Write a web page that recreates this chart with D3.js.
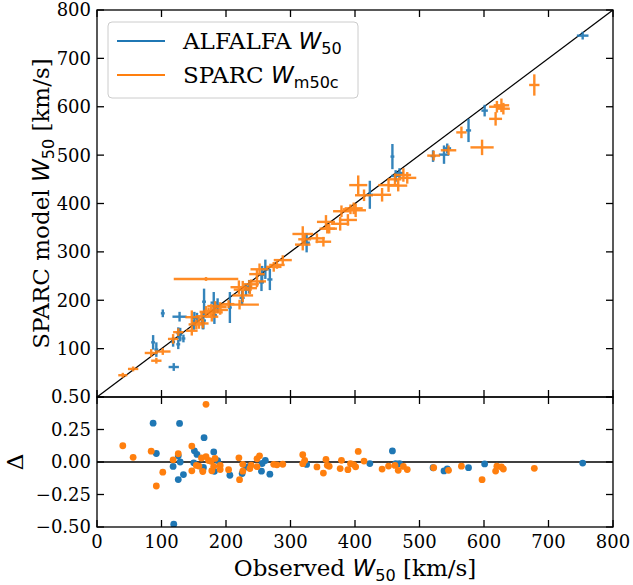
<!DOCTYPE html>
<html>
<head>
<meta charset="utf-8">
<script src="https://cdn.jsdelivr.net/npm/d3@7"></script>
<style>
  html, body { margin: 0; padding: 0; background: #fff; }
  svg { display: block; }
  text { font-family: "DejaVu Serif", serif; fill: #000; }
</style>
</head>
<body>
<svg id="chart" width="633" height="585"></svg>
<script>
// ---------------- DATA ----------------
// ALFALFA W50 : observed, SPARC model, errors
const alfalfaObs      = [87, 128, 92, 166, 126, 129, 118, 126, 134, 119, 151, 155, 150, 165, 164, 181, 182, 187, 206, 225, 231, 236, 255, 256, 261, 268, 325, 423, 458, 463, 469, 521, 538, 543, 576, 601, 753, 102];
const alfalfaModel    = [113, 166, 98, 197, 132, 129, 114, 109, 121, 62, 164, 164, 149, 158, 154, 195, 169, 189, 185, 205, 222, 228, 237, 253, 264, 243, 319, 418, 497, 457, 463, 498, 501, 514, 551, 592, 747, 173];
const alfalfaObsErr   = [3, 11, 3, 3, 3, 3, 3, 3, 3, 8, 4, 4, 3, 4, 3, 5, 4, 4, 3, 4, 3, 4, 4, 4, 5, 4, 5, 5, 3, 7, 6, 4, 8, 6, 4, 5, 9, 3];
const alfalfaModelErr = [15, 10, 15, 27, 12, 14, 10, 10, 8, 8, 12, 10, 10, 18, 14, 22, 18, 15, 32, 15, 12, 14, 18, 18, 20, 22, 20, 29, 26, 12, 10, 12, 19, 10, 24, 12, 8, 8];

// SPARC W_m50c : observed, SPARC model, errors
const sparcObs      = [40, 56, 84, 92, 102, 118, 126, 147, 147, 154, 158, 164, 162, 169, 169, 173, 177, 178, 183, 181, 191, 191, 204, 220, 221, 226, 226, 239, 237, 248, 252, 248, 274, 279, 288, 319, 319, 322, 341, 351, 355, 357, 360, 379, 377, 389, 393, 398, 401, 405, 414, 442, 452, 462, 467, 475, 481, 522, 545, 565, 597, 618, 620, 627, 630, 678];
const sparcModel    = [45, 58, 91, 75, 94, 120, 134, 165, 137, 150, 153, 152, 167, 176, 244, 175, 178, 166, 188, 175, 186, 180, 192, 227, 191, 222, 210, 233, 225, 254, 264, 239, 269, 273, 283, 337, 315, 326, 328, 321, 362, 348, 348, 384, 358, 366, 388, 390, 386, 438, 417, 418, 438, 450, 437, 459, 453, 499, 510, 547, 516, 575, 600, 603, 596, 645];
const sparcObsErr   = [7, 8, 10, 8, 12, 8, 8, 10, 9, 12, 10, 9, 9, 10, 50, 11, 12, 10, 12, 14, 10, 12, 9, 13, 30, 14, 16, 12, 11, 12, 14, 14, 12, 12, 14, 16, 12, 10, 12, 12, 14, 12, 12, 13, 14, 14, 12, 14, 16, 14, 14, 14, 16, 10, 14, 12, 14, 10, 12, 8, 18, 10, 12, 12, 10, 8];
const sparcModelErr = [5, 5, 8, 6, 7, 10, 8, 14, 10, 10, 12, 10, 10, 12, 4, 10, 14, 10, 10, 12, 10, 10, 8, 14, 10, 18, 14, 10, 12, 10, 12, 12, 10, 8, 10, 16, 12, 10, 10, 10, 14, 10, 10, 12, 14, 12, 10, 12, 14, 20, 12, 14, 14, 12, 12, 14, 12, 10, 10, 12, 16, 14, 12, 14, 12, 22];

const xTicks      = [0, 100, 200, 300, 400, 500, 600, 700, 800];
const yTicksTop   = [0, 100, 200, 300, 400, 500, 600, 700, 800];
const yTickLabelsTop = ["", "100", "200", "300", "400", "500", "600", "700", "800"];
const yTicksBot   = [-0.5, -0.25, 0, 0.25, 0.5];

const seriesNames = ["ALFALFA", "SPARC"];
const colors = ["#1f77b4", "#ff7f0e"];

// ---------------- LAYOUT ----------------
const svg = d3.select("#chart");
const L = 97, R = 613, T1 = 10, B1 = 397, T2 = 397, B2 = 527;
const tickLen = 7;

const x = d3.scaleLinear().domain([0, 800]).range([L, R]);
const yTop = d3.scaleLinear().domain([0, 800]).range([B1, T1]);
const yBot = d3.scaleLinear().domain([-0.5, 0.5]).range([B2, T2]);

function buildSeries(obs, model, xe, ye) {
  return obs.map((o, i) => ({ x: o, y: model[i], xe: xe[i], ye: ye[i], d: (model[i] - o) / o }));
}
const series = [
  buildSeries(alfalfaObs, alfalfaModel, alfalfaObsErr, alfalfaModelErr),
  buildSeries(sparcObs, sparcModel, sparcObsErr, sparcModelErr)
];

// clip paths
const defs = svg.append("defs");
defs.append("clipPath").attr("id", "clipTop").append("rect")
  .attr("x", L).attr("y", T1).attr("width", R - L).attr("height", B1 - T1);
defs.append("clipPath").attr("id", "clipBot").append("rect")
  .attr("x", L).attr("y", T2).attr("width", R - L).attr("height", B2 - T2);

// ---------- TOP PANEL ----------
const gTop = svg.append("g").attr("clip-path", "url(#clipTop)");
gTop.append("line")
  .attr("x1", x(0)).attr("y1", yTop(0)).attr("x2", x(800)).attr("y2", yTop(800))
  .attr("stroke", "#000").attr("stroke-width", 1.3);

series.forEach((s, si) => {
  const g = gTop.append("g").attr("stroke", colors[si]).attr("stroke-width", 2.4).attr("opacity", 0.9);
  g.selectAll("line.h").data(s).enter().append("line")
    .attr("x1", d => x(d.x - d.xe)).attr("x2", d => x(d.x + d.xe))
    .attr("y1", d => yTop(d.y)).attr("y2", d => yTop(d.y));
  g.selectAll("line.v").data(s).enter().append("line")
    .attr("x1", d => x(d.x)).attr("x2", d => x(d.x))
    .attr("y1", d => yTop(d.y - d.ye)).attr("y2", d => yTop(d.y + d.ye));
});

// ---------- BOTTOM PANEL ----------
const gBot = svg.append("g").attr("clip-path", "url(#clipBot)");
gBot.append("line")
  .attr("x1", x(0)).attr("x2", x(800)).attr("y1", yBot(0)).attr("y2", yBot(0))
  .attr("stroke", "#000").attr("stroke-width", 1.5);
series.forEach((s, si) => {
  gBot.append("g").selectAll("circle").data(s).enter().append("circle")
    .attr("cx", d => x(d.x)).attr("cy", d => yBot(d.d)).attr("r", 3.4)
    .attr("fill", colors[si]);
});

// ---------- AXES ----------
function frame(top, bottom) {
  svg.append("rect").attr("x", L).attr("y", top).attr("width", R - L).attr("height", bottom - top)
    .attr("fill", "none").attr("stroke", "#000").attr("stroke-width", 1.3);
}
frame(T1, B1);
frame(T2, B2);

function ticks(top, bottom, yScale, yT) {
  const g = svg.append("g").attr("stroke", "#000").attr("stroke-width", 1.3);
  xTicks.forEach(t => {
    g.append("line").attr("x1", x(t)).attr("x2", x(t)).attr("y1", bottom).attr("y2", bottom - tickLen);
    g.append("line").attr("x1", x(t)).attr("x2", x(t)).attr("y1", top).attr("y2", top + tickLen);
  });
  yT.forEach(t => {
    g.append("line").attr("x1", L).attr("x2", L + tickLen).attr("y1", yScale(t)).attr("y2", yScale(t));
    g.append("line").attr("x1", R).attr("x2", R - tickLen).attr("y1", yScale(t)).attr("y2", yScale(t));
  });
}
ticks(T1, B1, yTop, yTicksTop);
ticks(T2, B2, yBot, yTicksBot);

const fs = 18;
// top y labels
yTicksTop.forEach((t, i) => {
  svg.append("text").attr("x", L - 6).attr("y", yTop(t)).attr("dy", "0.36em")
    .attr("text-anchor", "end").attr("font-size", fs).text(yTickLabelsTop[i]);
});
// bottom y labels
const fmt = d3.format(".2f");
yTicksBot.forEach(t => {
  svg.append("text").attr("x", L - 6).attr("y", yBot(t)).attr("dy", "0.36em")
    .attr("text-anchor", "end").attr("font-size", fs).text(fmt(t).replace("-", "\u2212"));
});
// x labels
xTicks.forEach(t => {
  svg.append("text").attr("x", x(t)).attr("y", B2 + 21)
    .attr("text-anchor", "middle").attr("font-size", fs).text(t);
});

// W_sub helper
function wLabel(sel, before, sub, after, size) {
  sel.append("tspan").text(before);
  sel.append("tspan").attr("font-family", "DejaVu Sans").attr("font-style", "italic").text("W");
  sel.append("tspan").attr("font-family", "DejaVu Sans").attr("font-size", size * 0.7).attr("dy", size * 0.22).text(sub);
  sel.append("tspan").attr("dy", -size * 0.22).text(after);
}

const lfs = 23;
const xl = svg.append("text").attr("x", (L + R) / 2).attr("y", 576)
  .attr("text-anchor", "middle").attr("font-size", lfs);
wLabel(xl, "Observed ", "50", " [km/s]", lfs);

const yl = svg.append("text").attr("transform", `translate(49,${(T1 + B1) / 2}) rotate(-90)`)
  .attr("text-anchor", "middle").attr("font-size", lfs);
wLabel(yl, "SPARC model ", "50", " [km/s]", lfs);

svg.append("text").attr("transform", `translate(23,${yBot(0)}) rotate(-90)`)
  .attr("text-anchor", "middle").attr("font-size", lfs).text("\u0394");

// ---------- LEGEND ----------
const lg = svg.append("g");
lg.append("rect").attr("x", 108).attr("y", 22).attr("width", 250).attr("height", 76)
  .attr("rx", 4).attr("fill", "#fff").attr("fill-opacity", 0.8).attr("stroke", "#ccc").attr("stroke-width", 1);
const legendSubs = ["50", "m50c"];
const legendPre = ["ALFALFA ", "SPARC "];
const lgfs = 23;
[0, 1].forEach(i => {
  const yy = 41 + i * 34;
  lg.append("line").attr("x1", 117).attr("x2", 165).attr("y1", yy).attr("y2", yy)
    .attr("stroke", colors[i]).attr("stroke-width", 2);
  const t = lg.append("text").attr("x", 183).attr("y", yy).attr("dy", "0.36em").attr("font-size", lgfs);
  wLabel(t, legendPre[i], legendSubs[i], "", lgfs);
});
</script>
</body>
</html>
